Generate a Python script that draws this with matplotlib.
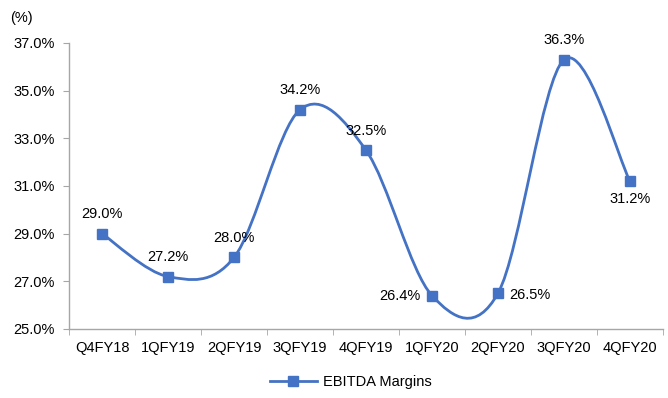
import matplotlib.pyplot as plt
import numpy as np
from matplotlib.path import Path
from matplotlib.patches import PathPatch
from matplotlib.lines import Line2D

plt.rcParams['font.family'] = ['Liberation Sans', 'DejaVu Sans']

quarters = ['Q4FY18', '1QFY19', '2QFY19', '3QFY19', '4QFY19',
            '1QFY20', '2QFY20', '3QFY20', '4QFY20']
margins = [29.0, 27.2, 28.0, 34.2, 32.5, 26.4, 26.5, 36.3, 31.2]
label_pos = ['above', 'above', 'above', 'above', 'above',
             'left', 'right', 'above', 'below']

blue = '#4472C4'
grey = '#A6A6A6'
fs = 10.5

fig = plt.figure(figsize=(6.68, 3.98), dpi=100)
ax = fig.add_axes([0.1033, 0.1734, 0.8892, 0.7186])

x = np.arange(len(quarters))
y = np.array(margins)

# smooth curve like Excel's "smoothed line" (cardinal bezier segments)
verts = [(x[0], y[0])]
codes = [Path.MOVETO]
n = len(x)
for i in range(n - 1):
    p0 = np.array([x[max(i - 1, 0)], y[max(i - 1, 0)]])
    p1 = np.array([x[i], y[i]])
    p2 = np.array([x[i + 1], y[i + 1]])
    p3 = np.array([x[min(i + 2, n - 1)], y[min(i + 2, n - 1)]])
    c1 = p1 + (p2 - p0) / 6.0
    c2 = p2 - (p3 - p1) / 6.0
    verts += [tuple(c1), tuple(c2), tuple(p2)]
    codes += [Path.CURVE4, Path.CURVE4, Path.CURVE4]
ax.add_patch(PathPatch(Path(verts, codes), facecolor='none', edgecolor=blue,
                       lw=2.0, zorder=2, capstyle='round'))
ax.plot(x, y, linestyle='none', marker='s', ms=6.5, color=blue, zorder=3)

for xi, yi, pos in zip(x, y, label_pos):
    txt = f'{yi:.1f}%'
    if pos == 'above':
        ax.annotate(txt, (xi, yi), xytext=(0, 9), textcoords='offset points',
                    ha='center', va='bottom', fontsize=fs)
    elif pos == 'below':
        ax.annotate(txt, (xi, yi), xytext=(0, -8), textcoords='offset points',
                    ha='center', va='top', fontsize=fs)
    elif pos == 'left':
        ax.annotate(txt, (xi, yi), xytext=(-8, 0), textcoords='offset points',
                    ha='right', va='center', fontsize=fs)
    else:
        ax.annotate(txt, (xi, yi), xytext=(8, -1), textcoords='offset points',
                    ha='left', va='center', fontsize=fs)

ax.set_xlim(-0.5, len(quarters) - 0.5)
ax.set_ylim(25, 37)
ax.set_yticks(np.arange(25, 37.1, 2))
ax.set_yticklabels([f'{v:.1f}%' for v in np.arange(25, 37.1, 2)], fontsize=fs)
ax.set_xticks(x)
ax.set_xticklabels(quarters, fontsize=fs)
ax.set_xticks(np.arange(-0.5, len(quarters), 1), minor=True)
ax.tick_params(axis='x', which='major', length=0, pad=9)
ax.tick_params(axis='x', which='minor', length=4, color=grey, direction='out')
ax.tick_params(axis='y', length=4, color=grey, pad=6)

for s in ['top', 'right']:
    ax.spines[s].set_visible(False)
for s in ['left', 'bottom']:
    ax.spines[s].set_color(grey)
    ax.spines[s].set_linewidth(1.0)

fig.text(0.015, 0.955, '(%)', fontsize=fs, ha='left', va='center')

handle = Line2D([], [], color=blue, lw=2.0, marker='s', ms=6.5)
fig.legend([handle], ['EBITDA Margins'], loc='center', bbox_to_anchor=(0.525, 0.04),
           frameon=False, fontsize=fs, handlelength=3.2, handletextpad=0.4)

fig.savefig('out.png', dpi=100)
